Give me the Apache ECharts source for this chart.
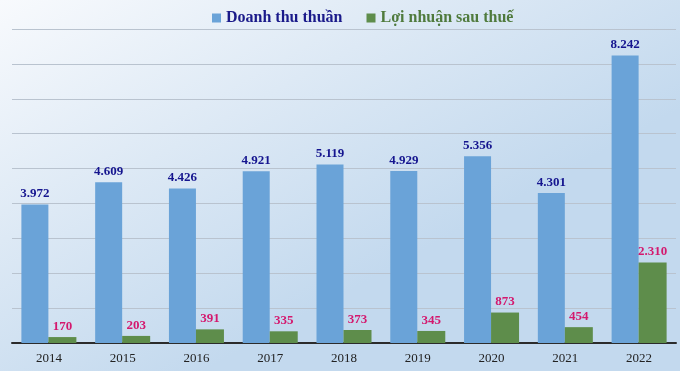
<!DOCTYPE html>
<html><head><meta charset="utf-8">
<script src="https://cdn.jsdelivr.net/npm/echarts@6/dist/echarts.min.js"></script>
<style>html,body{margin:0;padding:0;}#c{width:680px;height:371px;}</style>
</head><body><div id="c"></div>
<script>
const years = ['2014','2015','2016','2017','2018','2019','2020','2021','2022'];
const revenue = [3972, 4609, 4426, 4921, 5119, 4929, 5356, 4301, 8242];
const profit = [170, 203, 391, 335, 373, 345, 873, 454, 2310];
const seriesNames = ['Doanh thu thuần', 'Lợi nhuận sau thuế'];

function fmt(v){ return String(v).replace(/\B(?=(\d{3})+(?!\d))/g, '.'); }
const serif = '"Liberation Serif", "Times New Roman", serif';

const chart = echarts.init(document.getElementById('c'));
chart.setOption({
  backgroundColor: {
    type: 'linear', x: 0, y: 0, x2: 0.3, y2: 1,
    colorStops: [{offset: 0, color: '#f8fafd'}, {offset: 0.5, color: '#dde9f5'}, {offset: 1, color: '#c3d9ee'}]
  },
  animation: false,
  legend: {
    top: 5, left: 207, itemWidth: 9, itemHeight: 9, itemGap: 24,
    icon: 'rect',
    textStyle: {fontFamily: serif, fontWeight: 'bold', fontSize: 16},
    data: [
      {name: seriesNames[0], textStyle: {color: '#1a1a8a'}},
      {name: seriesNames[1], textStyle: {color: '#4f7a3c'}}
    ]
  },
  grid: {left: 12, right: 4, top: 29, bottom: 28},
  xAxis: {
    type: 'category', data: years,
    axisLine: {lineStyle: {color: '#2b2b2b', width: 2}},
    axisTick: {show: false},
    axisLabel: {fontFamily: serif, fontSize: 13, color: '#222', margin: 9}
  },
  yAxis: {
    type: 'value', min: 0, max: 9000, interval: 1000,
    axisLabel: {show: false}, axisLine: {show: false}, axisTick: {show: false},
    splitLine: {lineStyle: {color: '#b9c3cf', width: 1}}
  },
  series: [
    {
      name: seriesNames[0], type: 'bar', data: revenue, barWidth: 27, barGap: '0%',
      itemStyle: {color: '#6aa3d8'},
      label: {show: true, position: 'top', distance: 4, formatter: p => fmt(p.value),
        fontFamily: serif, fontWeight: 'bold', fontSize: 13, color: '#15158f'}
    },
    {
      name: seriesNames[1], type: 'bar', data: profit, barWidth: 28,
      itemStyle: {color: '#5e8d4b'},
      label: {show: true, position: 'top', distance: 4, formatter: p => fmt(p.value),
        fontFamily: serif, fontWeight: 'bold', fontSize: 13, color: '#d4186e'}
    }
  ]
});
</script></body></html>
